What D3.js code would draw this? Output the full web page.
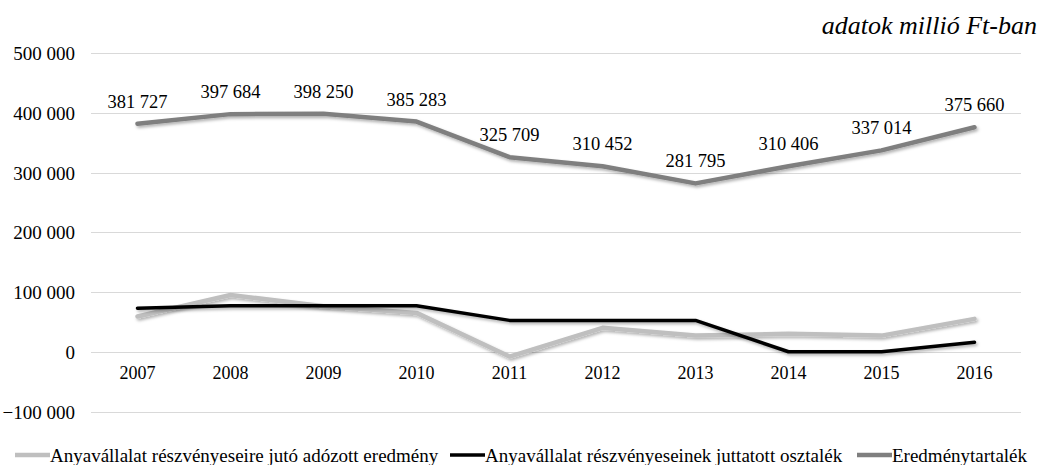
<!DOCTYPE html>
<html><head><meta charset="utf-8">
<script src="https://cdn.jsdelivr.net/npm/d3@7"></script>
<style>body{margin:0;background:#fff;}</style></head>
<body><svg id="c" width="1039" height="465"></svg>
<script>
const years = ["2007","2008","2009","2010","2011","2012","2013","2014","2015","2016"];
const adozottEredmeny = [59000, 95000, 76000, 65000, -8000, 40000, 27000, 30000, 27000, 55000];
const osztalek = [73000, 77000, 77000, 77000, 52500, 52500, 52500, 0, 0, 16000];
const eredmenytartalek = [381727, 397684, 398250, 385283, 325709, 310452, 281795, 310406, 337014, 375660];
const yTicks = [-100000, 0, 100000, 200000, 300000, 400000, 500000];
const seriesNames = ["Anyavállalat részvényeseire jutó adózott eredmény","Anyavállalat részvényeseinek juttatott osztalék","Eredménytartalék"];

const FONT = "'Liberation Serif'";
const svg = d3.select("#c");
const x = d3.scaleBand().domain(years).range([91, 1021]);
const y = d3.scaleLinear().domain([-100000, 500000]).range([411.5, 53]);
const fmt = v => d3.format(",")(v).replace(/,/g, " ");

const defs = svg.append("defs");
const f = defs.append("filter").attr("id","sh").attr("x","-10%").attr("y","-50%").attr("width","120%").attr("height","200%");
f.append("feDropShadow").attr("dx",1.5).attr("dy",2).attr("stdDeviation",1.5).attr("flood-color","#000").attr("flood-opacity",0.3);

svg.append("g").selectAll("line").data(yTicks).join("line")
  .attr("x1",91).attr("x2",1021)
  .attr("y1",d=>Math.round(y(d))+0.5).attr("y2",d=>Math.round(y(d))+0.5)
  .attr("stroke","#d9d9d9").attr("stroke-width",1);

const ya = svg.append("g").attr("transform","translate(75,0)")
  .call(d3.axisLeft(y).tickValues(yTicks).tickSize(0).tickPadding(0).tickFormat(fmt));
ya.select(".domain").remove();
ya.selectAll("text").attr("dy","0.35em").attr("fill","#000").attr("font-family",FONT).attr("font-size",19);

const xa = svg.append("g").attr("transform",`translate(0,${y(0)})`)
  .call(d3.axisBottom(x).tickSize(0).tickPadding(14));
xa.select(".domain").remove();
xa.selectAll("text").attr("fill","#000").attr("font-family",FONT).attr("font-size",18);

const cx = d => x(d) + x.bandwidth()/2;
const line = d3.line().x((d,i)=>cx(years[i])).y(d=>y(d));

const series = [
  {vals: adozottEredmeny, color:"#bfbfbf", w:4.5},
  {vals: osztalek, color:"#000000", w:3.5},
  {vals: eredmenytartalek, color:"#7f7f7f", w:4.5}
];
series.forEach(s=>{
  svg.append("path").datum(s.vals).attr("d",line)
    .attr("fill","none").attr("stroke",s.color).attr("stroke-width",s.w)
    .attr("stroke-linejoin","round").attr("stroke-linecap","round").attr("filter","url(#sh)");
});

svg.append("g").selectAll("text").data(eredmenytartalek).join("text")
  .attr("x",(d,i)=>cx(years[i])).attr("y",d=>y(d)-16)
  .attr("text-anchor","middle").attr("font-family",FONT).attr("font-size",18.5).text(fmt);

svg.append("text").attr("x",1037).attr("y",34).attr("text-anchor","end")
  .attr("font-family",FONT).attr("font-size",26).attr("font-style","italic").text("adatok millió Ft-ban");

const legX = [15, 450, 857];
const lg = svg.append("g");
seriesNames.forEach((n,i)=>{
  lg.append("line").attr("x1",legX[i]).attr("x2",legX[i]+35).attr("y1",455).attr("y2",455)
    .attr("stroke",series[i].color).attr("stroke-width",series[i].w);
  lg.append("text").attr("x",legX[i]+35).attr("y",455).attr("dy","0.35em")
    .attr("font-family",FONT).attr("font-size",19).text(n);
});
</script></body></html>
